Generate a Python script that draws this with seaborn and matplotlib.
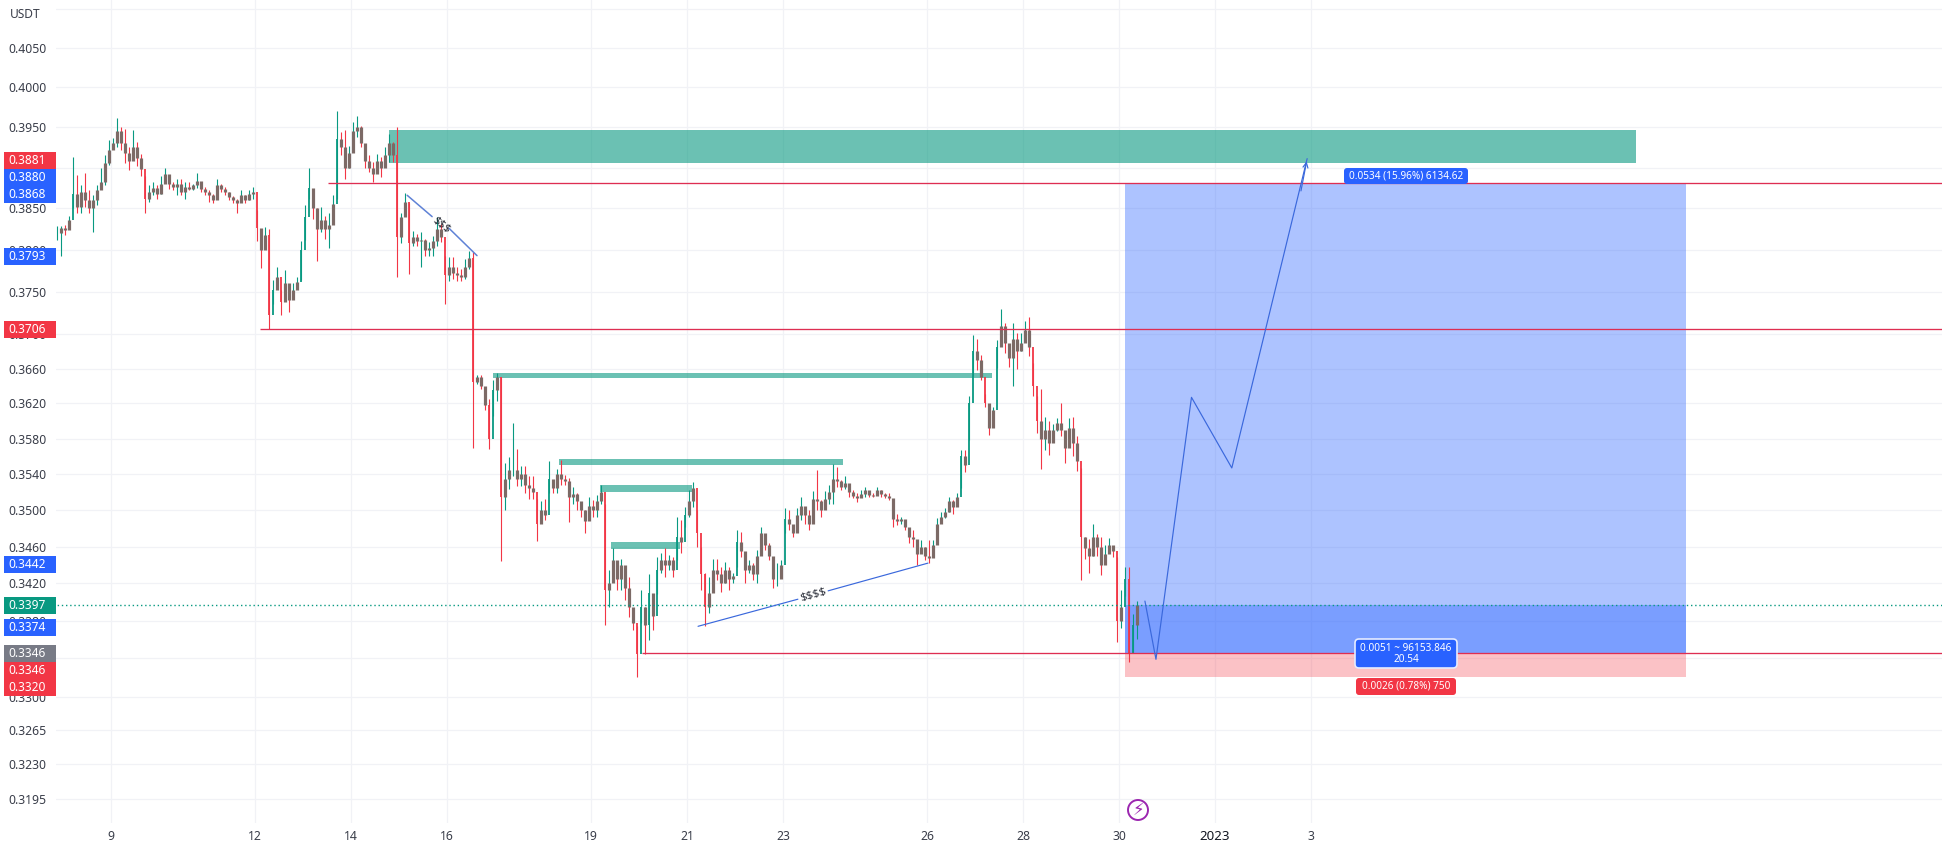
import numpy as np
import pandas as pd
import seaborn as sns
import matplotlib.pyplot as plt
from matplotlib.patches import FancyBboxPatch, Rectangle, Circle
from matplotlib.ticker import NullLocator, NullFormatter
from matplotlib.transforms import IdentityTransform

# ==============================
# DATA (prices in 1/10000 USDT)
# ==============================

highs = [
    3829,3829,3830,3841,3913,3891,3878,3893,3872,3866,
    3878,3899,3915,3934,3936,3962,3950,3948,3925,3946,
    3932,3917,3890,3878,3882,3878,3890,3899,3888,3882,
    3886,3886,3882,3882,3880,3893,3880,3876,3872,3868,
    3886,3880,3876,3870,3865,3862,3872,3866,3872,3876,
    3848,3825,3828,3825,3764,3780,3752,3776,3758,3760,
    3768,3810,3854,3899,3870,3850,3852,3841,3845,3866,
    3970,3944,3946,3927,3956,3964,3952,3919,3915,3907,
    3917,3913,3925,3942,3932,3950,3845,3869,3857,3823,
    3819,3821,3813,3809,3817,3839,3831,3793,3791,3791,
    3779,3777,3789,3799,3797,3653,3653,3632,3625,3647,
    3655,3650,3553,3559,3598,3568,3549,3549,3538,3538,
    3512,3510,3512,3555,3531,3546,3556,3539,3536,3526,
    3519,3507,3500,3515,3511,3517,3528,3507,3435,3458,
    3443,3447,3435,3427,3388,3374,3413,3395,3430,3409,
    3449,3453,3458,3451,3449,3493,3489,3504,3522,3531,
    3500,3460,3431,3427,3447,3447,3438,3443,3438,3431,
    3478,3476,3453,3445,3442,3456,3482,3469,3464,3443,
    3442,3445,3502,3500,3482,3502,3515,3504,3500,3521,
    3545,3511,3521,3528,3551,3548,3534,3538,3528,3522,
    3519,3522,3526,3519,3519,3526,3522,3519,3519,3496,
    3496,3493,3489,3478,3478,3467,3467,3460,3467,3467,
    3491,3498,3502,3515,3511,3519,3567,3567,3628,3699,
    3695,3676,3631,3610,3616,3693,3730,3713,3685,3713,
    3701,3701,3715,3720,3667,3628,3636,3604,3600,3597,
    3603,3620,3584,3603,3605,3583,3547,3470,3468,3485,
    3474,3470,3462,3469,3460,3449,3413,3438,3438,3387,3401,
]
lows = [
    3812,3793,3818,3825,3850,3845,3845,3852,3845,3822,
    3854,3878,3878,3903,3923,3925,3922,3905,3897,3911,
    3902,3890,3845,3858,3866,3862,3868,3884,3874,3872,
    3866,3866,3862,3872,3872,3875,3870,3866,3858,3856,
    3868,3870,3866,3860,3856,3845,3858,3856,3860,3862,
    3811,3778,3804,3706,3736,3754,3722,3740,3726,3746,
    3754,3764,3812,3862,3837,3786,3821,3813,3802,3845,
    3862,3915,3886,3899,3923,3938,3925,3899,3895,3882,
    3899,3888,3903,3907,3907,3768,3808,3849,3771,3805,
    3805,3779,3793,3793,3793,3805,3809,3735,3763,3765,
    3763,3763,3765,3777,3570,3642,3636,3612,3568,3606,
    3623,3444,3500,3523,3538,3527,3527,3519,3512,3512,
    3466,3489,3489,3519,3519,3519,3528,3528,3487,3507,
    3500,3493,3475,3489,3493,3493,3507,3375,3395,3424,
    3413,3413,3402,3384,3370,3320,3377,3345,3359,3370,
    3409,3431,3427,3435,3427,3445,3453,3482,3493,3504,
    3460,3413,3374,3388,3422,3424,3411,3420,3413,3420,
    3438,3449,3420,3431,3424,3420,3460,3456,3445,3415,
    3417,3427,3475,3478,3471,3478,3489,3485,3478,3504,
    3500,3493,3504,3507,3507,3526,3522,3524,3515,3513,
    3509,3515,3515,3515,3515,3519,3515,3513,3511,3482,
    3484,3485,3478,3464,3460,3440,3454,3445,3442,3454,
    3475,3489,3491,3498,3496,3506,3525,3543,3578,3651,
    3659,3647,3616,3584,3601,3661,3701,3678,3662,3640,
    3660,3680,3693,3675,3628,3586,3546,3567,3562,3583,
    3589,3583,3553,3578,3560,3544,3424,3446,3431,3450,
    3450,3429,3442,3453,3449,3357,3372,3406,3336,3346,3360,
]
closes = [
    3820,3826,3824,3836,3868,3852,3870,3860,3850,3860,
    3872,3882,3905,3922,3930,3945,3930,3918,3908,3925,
    3912,3898,3862,3870,3875,3868,3880,3892,3880,3876,
    3880,3870,3876,3874,3878,3884,3874,3870,3866,3860,
    3878,3874,3870,3864,3860,3856,3866,3860,3868,3870,
    3826,3800,3818,3722,3752,3768,3738,3760,3740,3752,
    3762,3800,3840,3875,3850,3825,3836,3825,3830,3855,
    3935,3925,3900,3918,3945,3950,3930,3908,3900,3892,
    3908,3900,3915,3930,3915,3815,3840,3858,3808,3815,
    3810,3812,3800,3802,3810,3825,3815,3770,3780,3772,
    3770,3768,3780,3790,3645,3650,3640,3618,3580,3635,
    3650,3515,3535,3545,3545,3535,3540,3528,3525,3520,
    3485,3500,3495,3535,3525,3540,3535,3532,3515,3518,
    3510,3500,3488,3505,3500,3510,3520,3413,3420,3445,
    3425,3440,3415,3395,3378,3345,3395,3375,3410,3385,
    3435,3445,3440,3445,3435,3470,3465,3495,3510,3525,
    3475,3430,3395,3410,3435,3430,3420,3435,3425,3428,
    3465,3455,3435,3440,3430,3450,3475,3462,3450,3425,
    3425,3440,3490,3485,3475,3495,3505,3495,3485,3512,
    3510,3500,3512,3520,3535,3532,3526,3530,3520,3516,
    3514,3518,3522,3517,3516,3522,3518,3516,3514,3490,
    3488,3490,3482,3470,3468,3452,3460,3450,3448,3462,
    3485,3492,3498,3510,3503,3515,3560,3550,3620,3680,
    3670,3650,3620,3592,3612,3685,3710,3690,3672,3695,
    3680,3690,3705,3685,3640,3600,3580,3590,3575,3590,
    3598,3590,3570,3592,3575,3555,3470,3458,3450,3470,
    3460,3440,3452,3462,3455,3380,3395,3425,3345,3375,3397,
]

ytick_pips = [4100,4050,4000,3950,3900,3850,3800,3750,3700,3660,3620,3580,
              3540,3500,3460,3420,3380,3340,3300,3265,3230,3195]
ytick_labels = ["","0.4050","0.4000","0.3950","0.3900","0.3850","0.3800","0.3750",
                "0.3700","0.3660","0.3620","0.3580","0.3540","0.3500","0.3460",
                "0.3420","0.3380","0.3340","0.3300","0.3265","0.3230","0.3195"]
xtick_days = [9,12,14,16,19,21,23,26,28,30,32,34]
xtick_labels = ["9","12","14","16","19","21","23","26","28","30","2023","3"]

# zones: day start, day end, price top, price bottom
zone_days = [(14.79,40.77),(16.96,27.35),(18.33,24.25),(19.19,21.10),(19.42,20.85)]
zone_tops = [3947,3655,3557,3528,3465]
zone_bots = [3905,3649,3550,3520,3457]

# horizontal levels: price, start day
level_prices = [3881,3706,3346]
level_starts = [13.52,12.10,20.06]

last_price = 3397
entry, stop, target = 3346, 3320, 3881
box_start, box_end = 30.125,41.81

path_days = [30.54,30.77,31.51,32.35,33.92]
path_prices = [3401,3339,3627,3547,3911]

trend1_days = [15.17,15.69,np.nan,16.04,16.625]
trend1_prices = [3866,3840,np.nan,3826,3793]
trend2_days = [21.23,23.31,np.nan,23.94,26.02]
trend2_prices = [3374,3403,np.nan,3412,3442]

# axis badges: text, colour, top pixel row
badge_text = ["0.3881","0.3880","0.3868","0.3793","0.3706","0.3442",
              "0.3397","0.3374","0.3346","0.3346","0.3320"]
badge_color = ["#F23645","#2962FF","#2962FF","#2962FF","#F23645","#2962FF",
               "#089981","#2962FF","#787B86","#F23645","#F23645"]
badge_top = [152,169,186,248,321,556,597,619,645,662,679]

# ==============================
# FIGURE
# ==============================

W, H = 1942, 851
BOTTOM = 823
LEFT = 56
GREEN = "#089981"
RED = "#F23645"
MIXED = "#7C6A66"
LEVEL = "#DE2E52"
BLUE = "#2962FF"
PATH = "#3A68DC"
TREND = "#5F82D6"
TEXT = "#3A3E4A"

sns.set_theme(style="white")
plt.rcParams["font.family"] = ["Noto Sans", "DejaVu Sans"]

fig = plt.figure(figsize=(W / 100, H / 100), dpi=100, facecolor="white")
ax = fig.add_axes([LEFT / W, (H - BOTTOM) / H, (W - LEFT) / W, BOTTOM / H])

df = pd.DataFrame({"high": highs, "low": lows, "close": closes}) / 10000
df["open"] = df["close"].shift(1).fillna(df["close"])
df["day"] = 7.875 + np.arange(len(df)) / 12
df["color"] = np.where(df["close"] >= df["open"], GREEN, RED)
# small candles blur to a grey brown at this zoom level
small = (df["close"] - df["open"]).abs() < 0.0030

ax.set_yscale("log")
ax.set_xlim(9 + (LEFT - 111) / 48, 9 + (W - 111) / 48)
ax.set_ylim(0.31708, 0.41119)

ax.set_yticks([p / 10000 for p in ytick_pips])
ax.set_yticklabels(ytick_labels)
ax.yaxis.set_minor_locator(NullLocator())
ax.yaxis.set_minor_formatter(NullFormatter())
ax.set_xticks(xtick_days)
ax.set_xticklabels(xtick_labels)
ax.grid(True, color="#F1F2F6", linewidth=0.9)
ax.set_axisbelow(True)
sns.despine(ax=ax, left=True, bottom=True, right=True, top=True)
ax.tick_params(axis="y", length=0, pad=7, labelsize=8.8, labelcolor=TEXT)
ax.tick_params(axis="x", length=0, pad=5, labelsize=8.8, labelcolor=TEXT)
ax.get_xticklabels()[10].set_color("#131722")
ax.get_xticklabels()[10].set_fontsize(9.6)
ax.set_xlabel("")
ax.set_ylabel("")

# ==============================
# CANDLES
# ==============================

ax.vlines(df["day"], df["low"], df["high"], colors=df["color"], linewidth=0.8, zorder=3.5)
ax.vlines(df["day"][small], df["open"][small], df["close"][small], colors=MIXED,
          linewidth=2.3, zorder=3.5)
ax.vlines(df["day"][~small], df["open"][~small], df["close"][~small],
          colors=df["color"][~small], linewidth=1.3, zorder=3.5)

# ==============================
# ZONES AND LEVELS
# ==============================

for (d0, d1), top, bot in zip(zone_days, zone_tops, zone_bots):
    ax.fill_between([d0, d1], bot / 10000, top / 10000, color=GREEN, alpha=0.6,
                    linewidth=0, zorder=3)

ax.fill_between([box_start, box_end], entry / 10000, target / 10000, color=BLUE,
                alpha=0.38, linewidth=0, zorder=3)
ax.fill_between([box_start, box_end], entry / 10000, last_price / 10000, color=BLUE,
                alpha=0.38, linewidth=0, zorder=3)
ax.fill_between([box_start, box_end], stop / 10000, entry / 10000, color=RED,
                alpha=0.3, linewidth=0, zorder=3)

for price, start in zip(level_prices, level_starts):
    ax.hlines(price / 10000, start, 9 + (W - 111) / 48, color=LEVEL, linewidth=0.95, zorder=4)
ax.hlines(last_price / 10000, 7.8, 9 + (W - 111) / 48, color=GREEN, linewidth=1.0,
          linestyles=(0, (1, 2)), zorder=4)

# ==============================
# DRAWINGS
# ==============================

sns.lineplot(x=path_days, y=[p / 10000 for p in path_prices], sort=False, estimator=None,
             color=PATH, linewidth=0.85, ax=ax, zorder=5)
ax.annotate("", xy=(path_days[-1], path_prices[-1] / 10000),
            xytext=(33.78, 0.3868),
            arrowprops=dict(arrowstyle="->", color=PATH, lw=0.85, mutation_scale=9), zorder=5)

ax.plot(trend1_days, np.array(trend1_prices) / 10000, color=TREND, linewidth=1.1, zorder=5)
ax.plot(trend2_days, np.array(trend2_prices) / 10000, color=PATH, linewidth=0.85, zorder=5)
ax.text(15.875, 0.3830, "$$$", rotation=-38, ha="center", va="center", fontsize=8,
        color="#1E222D", zorder=6, parse_math=False)
ax.text(23.63, 0.3407, "$$$$", rotation=15.5, ha="center", va="center", fontsize=8.4,
        color="#2A2E39", zorder=6, parse_math=False)

# ==============================
# BADGES
# ==============================

def px_box(x0, y0, x1, y1, color, rounding=0.0, edge="none"):
    box = FancyBboxPatch((x0, H - y1), x1 - x0, y1 - y0,
                         boxstyle="round,pad=0,rounding_size=%s" % rounding,
                         facecolor=color, edgecolor=edge, linewidth=1.2,
                         transform=IdentityTransform(), zorder=7)
    fig.add_artist(box)

def px_text(x, y, s, size=8.4, color="white", weight="normal", ha="center"):
    fig.text(x, H - y, s, fontsize=size, color=color, fontweight=weight, ha=ha, va="center",
             transform=IdentityTransform(), zorder=8, parse_math=False)

for label, color, top in zip(badge_text, badge_color, badge_top):
    fig.add_artist(Rectangle((4, H - top - 17), 52, 17, facecolor=color, edgecolor="none",
                             transform=IdentityTransform(), zorder=7))
    px_text(27, top + 8.5, label, size=8.6, weight="bold")

px_text(10, 14, "USDT", size=8.6, color=TEXT, ha="left")

px_box(1344, 168, 1468, 184, BLUE, rounding=3)
px_text(1406, 176, "0.0534 (15.96%) 6134.62", size=7.2)

px_box(1355, 639, 1457, 668, BLUE, rounding=4, edge="#E6ECFF")
px_text(1406, 648.5, "0.0051 ~ 96153.846", size=7.2)
px_text(1406, 659, "20.54", size=7.2)

px_box(1356, 678, 1456, 695, RED, rounding=3)
px_text(1406, 686.5, "0.0026 (0.78%) 750", size=7.2)

fig.add_artist(Circle((1138, H - 810), 10, facecolor="white", edgecolor="#9C27B0",
                      linewidth=1.4, transform=IdentityTransform(), zorder=7))
fig.text(1138, H - 810, "\u26A1", fontsize=12, color="#9C27B0", ha="center", va="center",
         family="DejaVu Sans", transform=IdentityTransform(), zorder=8)

plt.savefig("out.png", dpi=100, facecolor="white")
